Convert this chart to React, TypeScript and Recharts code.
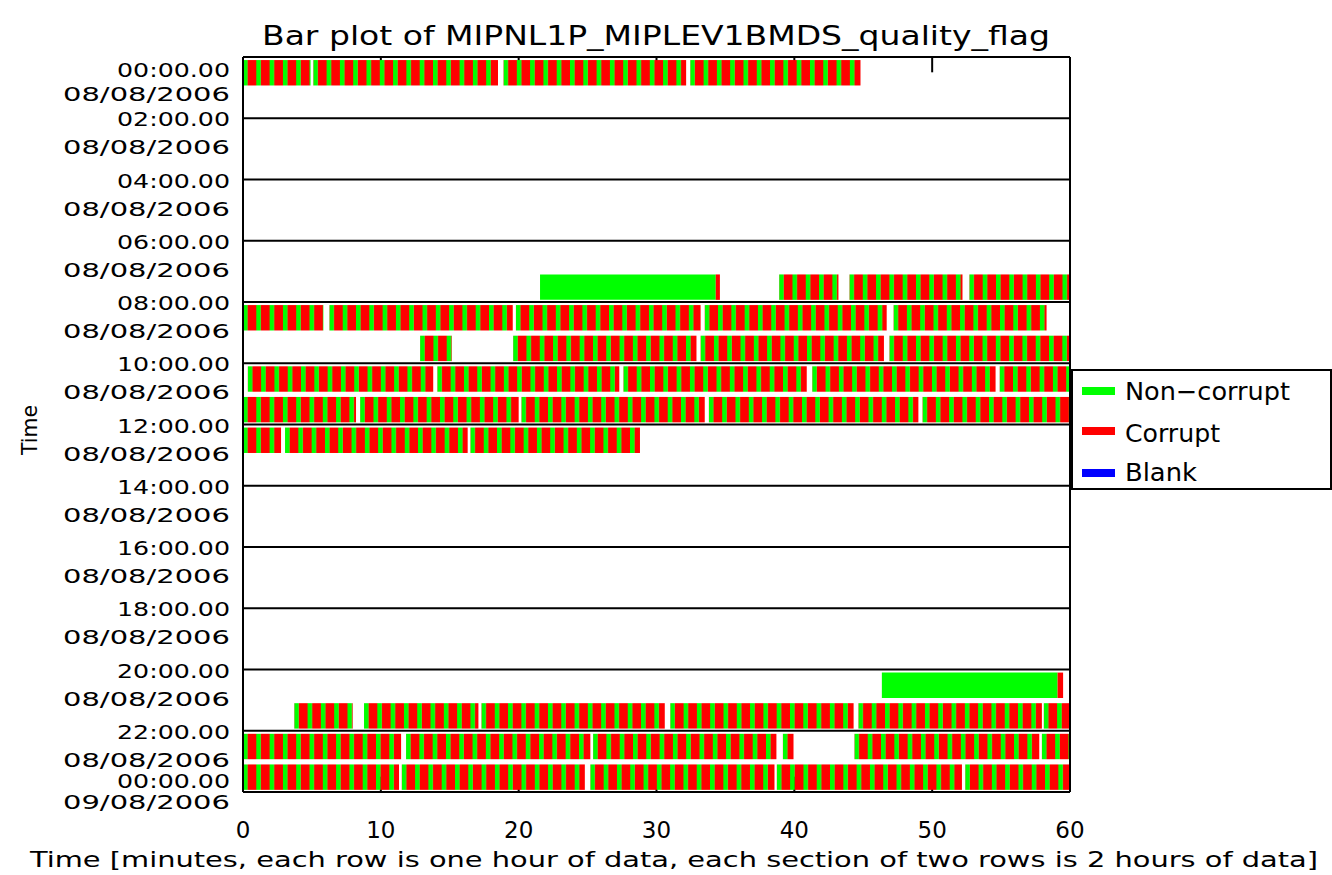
import React from 'react';
import { ComposedChart, XAxis, YAxis, ReferenceArea, ReferenceLine } from 'recharts';

const FONT = '"DejaVu Sans", "Liberation Sans", sans-serif';
const GREEN = '#00ff00';
const RED = '#ff0000';
const BLUE = '#0000ff';

// ---- axis ticks / labels ----
const xTicks = [0, 10, 20, 30, 40, 50, 60];
const sectionHours = [0, 2, 4, 6, 8, 10, 12, 14, 16, 18, 20, 22, 24];
const timeLabels = ['00:00.00', '02:00.00', '04:00.00', '06:00.00', '08:00.00', '10:00.00', '12:00.00', '14:00.00', '16:00.00', '18:00.00', '20:00.00', '22:00.00', '00:00.00'];
const dateLabels = ['08/08/2006', '08/08/2006', '08/08/2006', '08/08/2006', '08/08/2006', '08/08/2006', '08/08/2006', '08/08/2006', '08/08/2006', '08/08/2006', '08/08/2006', '08/08/2006', '09/08/2006'];

// ---- data: [startMinute, endMinute] per hour row ----
// mixed records (alternating non-corrupt / corrupt)
const row00 = [[0, 4.9], [5.1, 18.5], [18.9, 32.15], [32.45, 44.8]];
const row07 = [[38.9, 43.2], [44.0, 52.2], [52.7, 60]];
const row08 = [[0, 5.83], [6.27, 19.57], [19.8, 33.2], [33.5, 46.7], [47.2, 58.3]];
const row09 = [[12.85, 15.15], [19.6, 32.9], [33.2, 46.5], [46.9, 60]];
const row10 = [[0.35, 13.8], [14.1, 27.3], [27.6, 40.9], [41.3, 54.6], [54.9, 60]];
const row11 = [[0, 8.2], [8.5, 20.0], [20.2, 33.5], [33.8, 49.0], [49.3, 60]];
const row12 = [[0, 2.76], [3.05, 16.3], [16.5, 28.8]];
const row21 = [[3.72, 7.96], [8.78, 17.08], [17.3, 30.6], [31.0, 44.3], [44.65, 57.96], [58.1, 60]];
const row22 = [[0, 11.47], [11.83, 25.2], [25.4, 38.7], [39.17, 39.94], [44.36, 57.77], [57.96, 60]];
const row23 = [[0, 11.32], [11.52, 24.8], [25.2, 38.56], [38.73, 52.16], [52.4, 60]];
// solid non-corrupt blocks [row, start, end]
const nonCorruptBlocks = [[7, 21.55, 34.3], [20, 46.35, 59.1]];
// solid corrupt blocks [row, start, end]
const corruptBlocks = [[7, 34.3, 34.6], [20, 59.1, 59.5]];

const mixedRows: [number, number[][]][] = [
  [0, row00], [7, row07], [8, row08], [9, row09], [10, row10], [11, row11],
  [12, row12], [21, row21], [22, row22], [23, row23],
];

type Seg = { row: number; start: number; end: number; kind: 'mixed' | 'good' | 'bad' };
const segments: Seg[] = [
  ...mixedRows.flatMap(([row, list]) => list.map(([s, e]) => ({ row, start: s, end: e, kind: 'mixed' as const }))),
  ...nonCorruptBlocks.map(([row, s, e]) => ({ row, start: s, end: e, kind: 'good' as const })),
  ...corruptBlocks.map(([row, s, e]) => ({ row, start: s, end: e, kind: 'bad' as const })),
];

const chartData = segments.map((s) => ({ start: s.start, row: s.row }));

const StripedShape = (props: any) => {
  const { x, y, width, height } = props;
  if (width == null || height == null) return null;
  return (
    <g transform={`translate(${x},${y})`}>
      <rect x={0} y={0} width={width} height={height} fill="url(#qfStripes)" />
    </g>
  );
};

const TickShape = (props: any) => {
  const { x, y, width, height } = props;
  if (width == null || height == null) return null;
  return <line x1={x + width / 2} x2={x + width / 2} y1={y} y2={y + height} stroke="#000" strokeWidth={2} />;
};

const YTick = (props: any) => {
  const { x, y, index } = props;
  const last = sectionHours.length - 1;
  let tY = y + 8;
  let dY = y + 36;
  if (index === 0) { tY = y + 20; dY = y + 44; }
  if (index === last) { tY = y - 4; dY = y + 17; }
  return (
    <g>
      <text x={x} y={tY} textAnchor="end" fontFamily={FONT} fontSize={20} fill="#000" textLength={113} lengthAdjust="spacingAndGlyphs">{timeLabels[index]}</text>
      <text x={x} y={dY} textAnchor="end" fontFamily={FONT} fontSize={20} fill="#000" textLength={167} lengthAdjust="spacingAndGlyphs">{dateLabels[index]}</text>
    </g>
  );
};

const XTick = (props: any) => {
  const { x, y, payload } = props;
  return (
    <text x={x} y={y + 46} textAnchor="middle" fontFamily={FONT} fontSize={23} fill="#000">{payload.value}</text>
  );
};

export default function App() {
  return (
    <div style={{ position: 'absolute', left: 0, top: 0, width: 1332, height: 875, background: '#fff' }}>
      <svg width={0} height={0} style={{ position: 'absolute' }}>
        <defs>
          <pattern id="qfStripes" patternUnits="userSpaceOnUse" width={13.3} height={60}>
            <rect x={0} y={0} width={4.6} height={60} fill={GREEN} />
            <rect x={4.6} y={0} width={8.7} height={60} fill={RED} />
          </pattern>
        </defs>
      </svg>
      <ComposedChart width={1332} height={875} data={chartData} margin={{ top: 57, right: 262, bottom: 53, left: 8 }}>
        <XAxis type="number" dataKey="start" domain={[0, 60]} ticks={xTicks} interval={0} allowDataOverflow
          axisLine={false} tickLine={false} tickSize={0} tickMargin={0} height={30} tick={<XTick />} />
        <YAxis type="number" dataKey="row" domain={[0, 24]} reversed ticks={sectionHours} interval={0} allowDataOverflow
          axisLine={false} tickLine={false} tickSize={0} tickMargin={13} width={235} tick={<YTick />} />
        {xTicks.map((t) => (
          <ReferenceArea key={`tt${t}`} x1={t - 0.05} x2={t + 0.05} y1={0} y2={0.5} fill="#000" fillOpacity={1} shape={TickShape} ifOverflow="visible" />
        ))}
        {xTicks.map((t) => (
          <ReferenceArea key={`tb${t}`} x1={t - 0.05} x2={t + 0.05} y1={23.5} y2={24} fill="#000" fillOpacity={1} shape={TickShape} ifOverflow="visible" />
        ))}
        {segments.map((s, i) => (
          <ReferenceArea key={`seg${i}`} x1={s.start} x2={s.end} y1={s.row + 0.1} y2={s.row + 0.93}
            fill={s.kind === 'good' ? GREEN : RED} fillOpacity={1} stroke="none"
            shape={s.kind === 'mixed' ? StripedShape : undefined} />
        ))}
        {sectionHours.map((h) => (
          <ReferenceLine key={`h${h}`} y={h} stroke="#000" strokeWidth={2} />
        ))}
        <ReferenceLine x={0} stroke="#000" strokeWidth={2} />
        <ReferenceLine x={60} stroke="#000" strokeWidth={2} />
      </ComposedChart>
      <svg width={1332} height={875} style={{ position: 'absolute', left: 0, top: 0, pointerEvents: 'none' }}>
        <text x={656} y={45} textAnchor="middle" fontFamily={FONT} fontSize={27} fill="#000" textLength={788} lengthAdjust="spacingAndGlyphs">Bar plot of MIPNL1P_MIPLEV1BMDS_quality_flag</text>
        <text x={674} y={867} textAnchor="middle" fontFamily={FONT} fontSize={22} fill="#000" textLength={1288} lengthAdjust="spacingAndGlyphs">Time [minutes, each row is one hour of data, each section of two rows is 2 hours of data]</text>
        <text x={0} y={0} transform="translate(37,430) rotate(-90)" textAnchor="middle" fontFamily={FONT} fontSize={22} fill="#000" textLength={50} lengthAdjust="spacingAndGlyphs">Time</text>
        <rect x={1072} y={370} width={259} height={119} fill="#fff" stroke="#000" strokeWidth={2} />
        <rect x={1082} y={387} width={33} height={8} fill={GREEN} />
        <rect x={1082} y={427} width={33} height={8} fill={RED} />
        <rect x={1082} y={469} width={33} height={8} fill={BLUE} />
        <text x={1125} y={400} fontFamily={FONT} fontSize={25} fill="#000" textLength={165} lengthAdjust="spacingAndGlyphs">Non−corrupt</text>
        <text x={1125} y={442} fontFamily={FONT} fontSize={25} fill="#000" textLength={95} lengthAdjust="spacingAndGlyphs">Corrupt</text>
        <text x={1125} y={481} fontFamily={FONT} fontSize={25} fill="#000" textLength={72} lengthAdjust="spacingAndGlyphs">Blank</text>
      </svg>
    </div>
  );
}
